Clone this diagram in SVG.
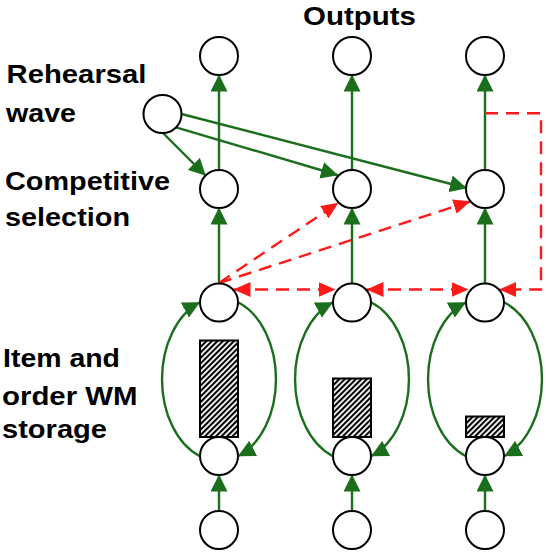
<svg xmlns="http://www.w3.org/2000/svg" width="546" height="552" viewBox="0 0 546 552">
<style>
.lbl{font-family:"Liberation Sans",Arial,sans-serif;font-weight:bold;font-size:25px;fill:#000}
.nd{fill:#fff;stroke:#000;stroke-width:2}
.g{fill:none;stroke:#1b6e1b;stroke-width:2.4}
.r{fill:none;stroke:#ff1a1a;stroke-width:2.4;stroke-dasharray:13 8}
.bar{fill:url(#hatch);stroke:#000;stroke-width:2}
</style>
<defs>
<marker id="ga" viewBox="0 0 17 17" refX="16.5" refY="8.5" markerWidth="17" markerHeight="17" markerUnits="userSpaceOnUse" orient="auto"><path d="M0,0L17,8.5L0,17z" fill="#1b6e1b"/></marker>
<marker id="ra" viewBox="0 0 17 15" refX="16.5" refY="7.5" markerWidth="17" markerHeight="15" markerUnits="userSpaceOnUse" orient="auto-start-reverse"><path d="M0,0L17,7.5L0,15z" fill="#ff1a1a"/></marker>
<pattern id="hatch" patternUnits="userSpaceOnUse" width="3.9" height="3.9" patternTransform="rotate(45)"><rect width="3.9" height="3.9" fill="#fff"/><rect width="2.1" height="3.9" fill="#000"/></pattern>
</defs>

<g id="labels">
<text class="lbl" x="303" y="24.5" textLength="113" lengthAdjust="spacingAndGlyphs">Outputs</text>
<text class="lbl" x="6.5" y="83" textLength="140" lengthAdjust="spacingAndGlyphs">Rehearsal</text>
<text class="lbl" x="6" y="121.5" textLength="70" lengthAdjust="spacingAndGlyphs">wave</text>
<text class="lbl" x="5" y="190" textLength="165" lengthAdjust="spacingAndGlyphs">Competitive</text>
<text class="lbl" x="5" y="226" textLength="125" lengthAdjust="spacingAndGlyphs">selection</text>
<text class="lbl" x="3" y="366.5" textLength="117" lengthAdjust="spacingAndGlyphs">Item and</text>
<text class="lbl" x="2" y="404.5" textLength="135.5" lengthAdjust="spacingAndGlyphs">order WM</text>
<text class="lbl" x="2" y="437.5" textLength="105" lengthAdjust="spacingAndGlyphs">storage</text>
</g>

<g id="connectors">
<line class="g" x1="219" y1="170" x2="219" y2="75" marker-end="url(#ga)"/>
<line class="g" x1="352" y1="170" x2="352" y2="75" marker-end="url(#ga)"/>
<line class="g" x1="485" y1="170" x2="485" y2="75" marker-end="url(#ga)"/>
<line class="g" x1="219" y1="283.5" x2="219" y2="208" marker-end="url(#ga)"/>
<line class="g" x1="352" y1="283.5" x2="352" y2="208" marker-end="url(#ga)"/>
<line class="g" x1="485" y1="283.5" x2="485" y2="208" marker-end="url(#ga)"/>
<line class="g" x1="219" y1="511" x2="219" y2="475" marker-end="url(#ga)"/>
<line class="g" x1="352" y1="511" x2="352" y2="475" marker-end="url(#ga)"/>
<line class="g" x1="485" y1="511" x2="485" y2="475" marker-end="url(#ga)"/>
<line class="g" x1="163" y1="133" x2="205.5" y2="175.5" marker-end="url(#ga)"/>
<line class="g" x1="176" y1="127.3" x2="337.5" y2="175" marker-end="url(#ga)"/>
<line class="g" x1="181.5" y1="114" x2="466.5" y2="188" marker-end="url(#ga)"/>
<path class="g" d="M199.5,456 A57 81.7 0 0 1 199.5,302.5" marker-end="url(#ga)"/>
<path class="g" d="M238.5,302.5 A57 81.7 0 0 1 238.5,456" marker-end="url(#ga)"/>
<path class="g" d="M332.5,456 A57 81.7 0 0 1 332.5,302.5" marker-end="url(#ga)"/>
<path class="g" d="M371.5,302.5 A57 81.7 0 0 1 371.5,456" marker-end="url(#ga)"/>
<path class="g" d="M465.5,456 A57 81.7 0 0 1 465.5,302.5" marker-end="url(#ga)"/>
<path class="g" d="M504.5,302.5 A57 81.7 0 0 1 504.5,456" marker-end="url(#ga)"/>
<line class="r" x1="219" y1="283" x2="338" y2="203" marker-end="url(#ra)"/>
<line class="r" x1="219" y1="283" x2="470" y2="201.5" marker-end="url(#ra)"/>
<line class="r" x1="234" y1="289.5" x2="335" y2="289.5" marker-start="url(#ra)" marker-end="url(#ra)"/>
<line class="r" x1="367" y1="289.5" x2="468" y2="289.5" marker-start="url(#ra)" marker-end="url(#ra)"/>
<path class="r" d="M485,113.3 H541 V289.5 H499.5" marker-end="url(#ra)"/>
</g>

<g id="bars">
<rect class="bar" x="200" y="340.5" width="38" height="96.5"/>
<rect class="bar" x="333" y="378.5" width="38" height="58.5"/>
<rect class="bar" x="466" y="416.5" width="38" height="20.5"/>
</g>

<g id="node-rehearsal"><circle class="nd" cx="162.5" cy="114" r="19"/></g>
<g id="node-out1"><circle class="nd" cx="219" cy="56" r="19"/></g>
<g id="node-out2"><circle class="nd" cx="352" cy="56" r="19"/></g>
<g id="node-out3"><circle class="nd" cx="485" cy="56" r="19"/></g>
<g id="node-comp1"><circle class="nd" cx="219" cy="189" r="19"/></g>
<g id="node-comp2"><circle class="nd" cx="352" cy="189" r="19"/></g>
<g id="node-comp3"><circle class="nd" cx="485" cy="189" r="19"/></g>
<g id="node-stTop1"><circle class="nd" cx="219" cy="302.5" r="19"/></g>
<g id="node-stTop2"><circle class="nd" cx="352" cy="302.5" r="19"/></g>
<g id="node-stTop3"><circle class="nd" cx="485" cy="302.5" r="19"/></g>
<g id="node-stBot1"><circle class="nd" cx="219" cy="456" r="19"/></g>
<g id="node-stBot2"><circle class="nd" cx="352" cy="456" r="19"/></g>
<g id="node-stBot3"><circle class="nd" cx="485" cy="456" r="19"/></g>
<g id="node-in1"><circle class="nd" cx="219" cy="530" r="19"/></g>
<g id="node-in2"><circle class="nd" cx="352" cy="530" r="19"/></g>
<g id="node-in3"><circle class="nd" cx="485" cy="530" r="19"/></g>
</svg>
